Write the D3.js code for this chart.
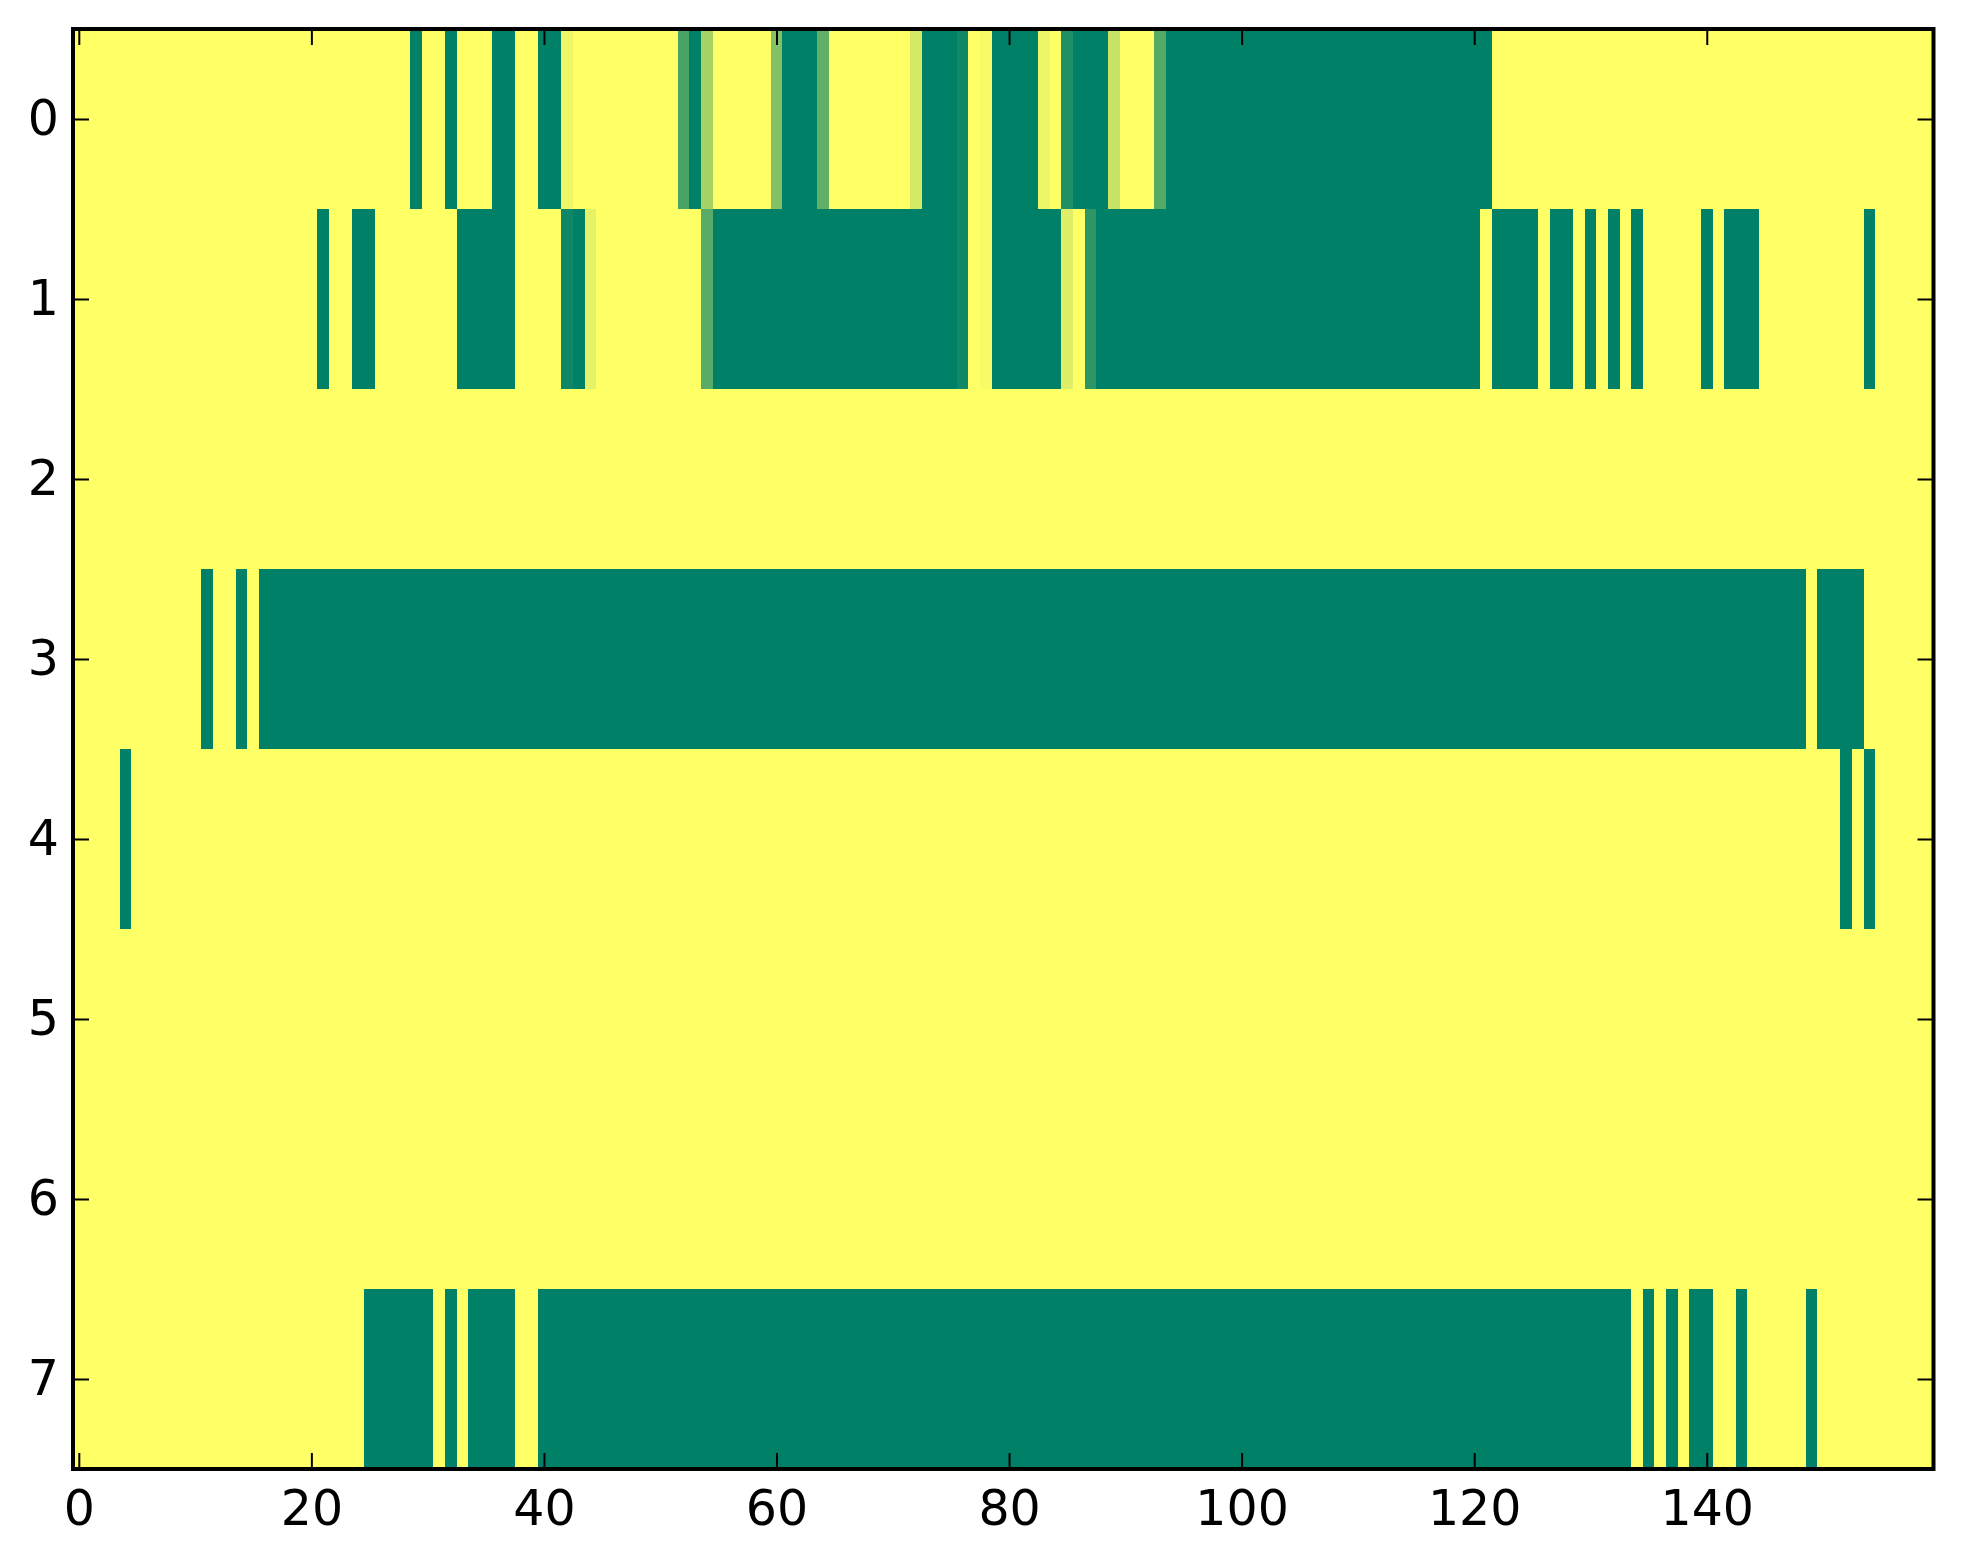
<!DOCTYPE html>
<html lang="en">
	<head>
		<meta charset="utf-8">
		<title>Heatmap</title>
		<script type="text/javascript" src="https://cdn.jsdelivr.net/npm/d3@7"></script>
		<style>
			body { margin: 0; background: #fff; }
			.axis text { font-family: "DejaVu Sans", sans-serif; font-size: 49px; fill: #000; }
		</style>
	</head>
	<body>
		<script type="text/javascript">

			var w = 1963;
			var h = 1564;

			// plot box (pixels)
			var boxLeft = 73, boxRight = 1933.5, boxTop = 29, boxBottom = 1469;

			var rowLabels = [0, 1, 2, 3, 4, 5, 6, 7];
			var xTicks = [0, 20, 40, 60, 80, 100, 120, 140];

			// one array per row, 160 columns each (0 = green, 1 = yellow)
			var row0 = [
				1,1,1,1,1,1,1,1,1,1,1,1,1,1,1,1,1,1,1,1,
				1,1,1,1,1,1,1,1,1,0,1,1,0,1,1,1,0,0,1,1,
				0,0,0.94,1,1,1,1,1,1,1,1,1,0.28,0,0.65,1,1,1,1,1,
				0.51,0,0,0,0.38,1,1,1,1,1,1,1,0.83,0,0,0,0.07,1,0.97,0,
				0,0,0,0.93,1,0.12,0,0,0,0.78,1,1,1,0.33,0,0,0,0,0,0,
				0,0,0,0,0,0,0,0,0,0,0,0,0,0,0,0,0,0,0,0,
				0,0,1,1,1,1,1,1,1,1,1,1,1,1,1,1,1,1,1,1,
				1,1,1,1,1,1,1,1,1,1,1,1,1,1,1,1,1,1,1,1
			];
			var row1 = [
				1,1,1,1,1,1,1,1,1,1,1,1,1,1,1,1,1,1,1,1,
				1,0,1,1,0,0,1,1,1,1,1,1,1,0,0,0,0,0,1,1,
				1,1,0.06,0,0.9,1,1,1,1,1,1,1,1,1,0.35,0,0,0,0,0,
				0,0,0,0,0,0,0,0,0,0,0,0,0,0,0,0,0.07,1,0.97,0,
				0,0,0,0,0,0.87,1,0.18,0,0,0,0,0,0,0,0,0,0,0,0,
				0,0,0,0,0,0,0,0,0,0,0,0,0,0,0,0,0,0,0,0,
				0,1,0,0,0,0,1,0,0,1,0,1,0,1,0,1,1,1,1,1,
				0,1,0,0,0,1,1,1,1,1,1,1,1,1,0,1,1,1,1,1
			];
			var row2 = [
				1,1,1,1,1,1,1,1,1,1,1,1,1,1,1,1,1,1,1,1,
				1,1,1,1,1,1,1,1,1,1,1,1,1,1,1,1,1,1,1,1,
				1,1,1,1,1,1,1,1,1,1,1,1,1,1,1,1,1,1,1,1,
				1,1,1,1,1,1,1,1,1,1,1,1,1,1,1,1,1,1,1,1,
				1,1,1,1,1,1,1,1,1,1,1,1,1,1,1,1,1,1,1,1,
				1,1,1,1,1,1,1,1,1,1,1,1,1,1,1,1,1,1,1,1,
				1,1,1,1,1,1,1,1,1,1,1,1,1,1,1,1,1,1,1,1,
				1,1,1,1,1,1,1,1,1,1,1,1,1,1,1,1,1,1,1,1
			];
			var row3 = [
				1,1,1,1,1,1,1,1,1,1,1,0,1,1,0,1,0,0,0,0,
				0,0,0,0,0,0,0,0,0,0,0,0,0,0,0,0,0,0,0,0,
				0,0,0,0,0,0,0,0,0,0,0,0,0,0,0,0,0,0,0,0,
				0,0,0,0,0,0,0,0,0,0,0,0,0,0,0,0,0,0,0,0,
				0,0,0,0,0,0,0,0,0,0,0,0,0,0,0,0,0,0,0,0,
				0,0,0,0,0,0,0,0,0,0,0,0,0,0,0,0,0,0,0,0,
				0,0,0,0,0,0,0,0,0,0,0,0,0,0,0,0,0,0,0,0,
				0,0,0,0,0,0,0,0,0,1,0,0,0,0,1,1,1,1,1,1
			];
			var row4 = [
				1,1,1,1,0,1,1,1,1,1,1,1,1,1,1,1,1,1,1,1,
				1,1,1,1,1,1,1,1,1,1,1,1,1,1,1,1,1,1,1,1,
				1,1,1,1,1,1,1,1,1,1,1,1,1,1,1,1,1,1,1,1,
				1,1,1,1,1,1,1,1,1,1,1,1,1,1,1,1,1,1,1,1,
				1,1,1,1,1,1,1,1,1,1,1,1,1,1,1,1,1,1,1,1,
				1,1,1,1,1,1,1,1,1,1,1,1,1,1,1,1,1,1,1,1,
				1,1,1,1,1,1,1,1,1,1,1,1,1,1,1,1,1,1,1,1,
				1,1,1,1,1,1,1,1,1,1,1,1,0,1,0,1,1,1,1,1
			];
			var row5 = [
				1,1,1,1,1,1,1,1,1,1,1,1,1,1,1,1,1,1,1,1,
				1,1,1,1,1,1,1,1,1,1,1,1,1,1,1,1,1,1,1,1,
				1,1,1,1,1,1,1,1,1,1,1,1,1,1,1,1,1,1,1,1,
				1,1,1,1,1,1,1,1,1,1,1,1,1,1,1,1,1,1,1,1,
				1,1,1,1,1,1,1,1,1,1,1,1,1,1,1,1,1,1,1,1,
				1,1,1,1,1,1,1,1,1,1,1,1,1,1,1,1,1,1,1,1,
				1,1,1,1,1,1,1,1,1,1,1,1,1,1,1,1,1,1,1,1,
				1,1,1,1,1,1,1,1,1,1,1,1,1,1,1,1,1,1,1,1
			];
			var row6 = [
				1,1,1,1,1,1,1,1,1,1,1,1,1,1,1,1,1,1,1,1,
				1,1,1,1,1,1,1,1,1,1,1,1,1,1,1,1,1,1,1,1,
				1,1,1,1,1,1,1,1,1,1,1,1,1,1,1,1,1,1,1,1,
				1,1,1,1,1,1,1,1,1,1,1,1,1,1,1,1,1,1,1,1,
				1,1,1,1,1,1,1,1,1,1,1,1,1,1,1,1,1,1,1,1,
				1,1,1,1,1,1,1,1,1,1,1,1,1,1,1,1,1,1,1,1,
				1,1,1,1,1,1,1,1,1,1,1,1,1,1,1,1,1,1,1,1,
				1,1,1,1,1,1,1,1,1,1,1,1,1,1,1,1,1,1,1,1
			];
			var row7 = [
				1,1,1,1,1,1,1,1,1,1,1,1,1,1,1,1,1,1,1,1,
				1,1,1,1,1,0,0,0,0,0,0,1,0,1,0,0,0,0,1,1,
				0,0,0,0,0,0,0,0,0,0,0,0,0,0,0,0,0,0,0,0,
				0,0,0,0,0,0,0,0,0,0,0,0,0,0,0,0,0,0,0,0,
				0,0,0,0,0,0,0,0,0,0,0,0,0,0,0,0,0,0,0,0,
				0,0,0,0,0,0,0,0,0,0,0,0,0,0,0,0,0,0,0,0,
				0,0,0,0,0,0,0,0,0,0,0,0,0,0,1,0,1,0,1,0,
				0,1,1,0,1,1,1,1,1,0,1,1,1,1,1,1,1,1,1,1
			];

			var rows = [row0, row1, row2, row3, row4, row5, row6, row7];
			var nCols = row0.length;

			var cells = [];
			rows.forEach(function(r, i) {
				r.forEach(function(v, j) {
					cells.push({ row: i, col: j, value: v });
				});
			});

			// matplotlib "summer": r = v, g = 0.5 + 0.5 v, b = 0.4
			function summer(v) {
				return d3.rgb(v * 255, (0.5 + 0.5 * v) * 255, 0.4 * 255).toString();
			}

			var xScale = d3.scaleLinear()
						   .domain([-0.5, nCols - 0.5])
						   .range([boxLeft, boxRight]);

			var yScale = d3.scaleLinear()
						   .domain([-0.5, rows.length - 0.5])
						   .range([boxTop, boxBottom]);

			var svg = d3.select("body")
						.append("svg")
						.attr("width", w)
						.attr("height", h);

			svg.append("rect")
			   .attr("width", w)
			   .attr("height", h)
			   .attr("fill", "#fff");

			svg.append("g")
			   .attr("shape-rendering", "crispEdges")
			   .selectAll("rect")
			   .data(cells)
			   .enter()
			   .append("rect")
			   .attr("x", function(d) { return xScale(d.col - 0.5); })
			   .attr("y", function(d) { return yScale(d.row - 0.5); })
			   .attr("width", function(d) { return xScale(d.col + 0.5) - xScale(d.col - 0.5) + 0.5; })
			   .attr("height", function(d) { return yScale(d.row + 0.5) - yScale(d.row - 0.5) + 0.5; })
			   .attr("fill", function(d) { return summer(d.value); });

			var tickLen = 16;

			var xAxisBottom = d3.axisBottom(xScale).tickValues(xTicks).tickFormat(d3.format("d"))
								.tickSizeInner(-tickLen).tickSizeOuter(0).tickPadding(21);
			var xAxisTop = d3.axisTop(xScale).tickValues(xTicks).tickFormat("")
								.tickSizeInner(-tickLen).tickSizeOuter(0);
			var yAxisLeft = d3.axisLeft(yScale).tickValues(rowLabels).tickFormat(d3.format("d"))
								.tickSizeInner(-tickLen).tickSizeOuter(0).tickPadding(14);
			var yAxisRight = d3.axisRight(yScale).tickValues(rowLabels).tickFormat("")
								.tickSizeInner(-tickLen).tickSizeOuter(0);

			function styleAxis(g) {
				g.select(".domain").remove();
				g.selectAll(".tick line").attr("stroke", "#000").attr("stroke-width", 2);
				g.selectAll("text").attr("font-family", null).attr("font-size", null);
			}

			svg.append("g").attr("class", "axis")
			   .attr("transform", "translate(0," + boxBottom + ")")
			   .call(xAxisBottom).call(styleAxis);
			svg.append("g").attr("class", "axis")
			   .attr("transform", "translate(0," + boxTop + ")")
			   .call(xAxisTop).call(styleAxis);
			svg.append("g").attr("class", "axis")
			   .attr("transform", "translate(" + boxLeft + ",0)")
			   .call(yAxisLeft).call(styleAxis);
			svg.append("g").attr("class", "axis")
			   .attr("transform", "translate(" + boxRight + ",0)")
			   .call(yAxisRight).call(styleAxis);

			// frame
			svg.append("rect")
			   .attr("x", boxLeft)
			   .attr("y", boxTop)
			   .attr("width", boxRight - boxLeft)
			   .attr("height", boxBottom - boxTop)
			   .attr("fill", "none")
			   .attr("stroke", "#000")
			   .attr("stroke-width", 4);

		</script>
	</body>
</html>
